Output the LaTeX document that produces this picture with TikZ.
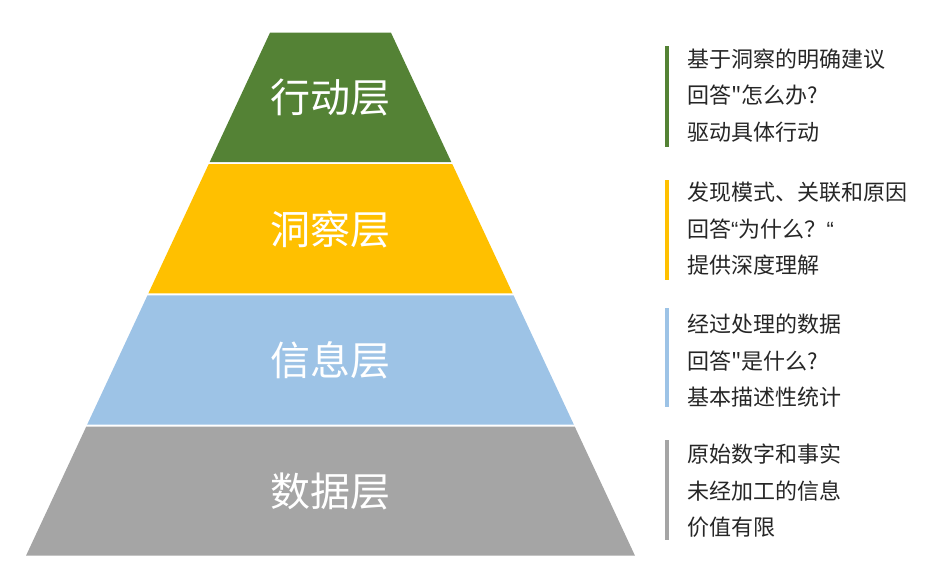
\documentclass[tikz,border=0pt]{standalone}
\usepackage{fontspec}
\setmainfont{Noto Sans CJK SC}
\newfontfamily\cjk{Noto Sans CJK SC}
\newfontfamily\latq{Liberation Sans}
\definecolor{cgreen}{HTML}{548235}
\definecolor{cyellow}{HTML}{FFC000}
\definecolor{cblue}{HTML}{9DC3E6}
\definecolor{cgray}{HTML}{A5A5A5}
\definecolor{ctext}{HTML}{262626}
\begin{document}
\begin{tikzpicture}[x=1pt,y=-1pt,
  layerlabel/.style={text=white,font=\cjk\fontsize{40}{48}\selectfont,inner sep=0pt},
  notes/.style={anchor=west,align=left,text=ctext,font=\cjk\fontsize{22}{36.5}\selectfont,inner sep=0pt}]
\useasboundingbox (0,0) rectangle (932,571);
% layers
\fill[cgreen]  (270,32.7) -- (391,32.7) -- (451.3,162) -- (209.7,162) -- cycle;
\fill[cyellow] (208.75,164) -- (452.25,164) -- (512.6,293.3) -- (148.4,293.3) -- cycle;
\fill[cblue]   (147.5,295.3) -- (513.5,295.3) -- (573.8,424.5) -- (87.2,424.5) -- cycle;
\fill[cgray]   (86.3,426.5) -- (574.7,426.5) -- (635,555.7) -- (26,555.7) -- cycle;
% labels
\node[layerlabel] (l1) at (330.5,97.5) {行动层};
\node[layerlabel] (l2) at (330.5,229) {洞察层};
\node[layerlabel] (l3) at (330.5,360) {信息层};
\node[layerlabel] (l4) at (330.5,491) {数据层};
% side bars
\fill[cgreen]  (665,46) rectangle (669,147);
\fill[cyellow] (665,180) rectangle (669,280);
\fill[cblue]   (665,308) rectangle (669,407);
\fill[cgray]   (665,440) rectangle (669,540);
% notes
\node[notes] (n1) at (687,95.5) {基于洞察的明确建议\\回答"怎么办?\\驱动具体行动};
\node[notes] (n2) at (687,229) {发现模式、关联和原因\\回答{\latq “}为什么？{\latq “}\\提供深度理解};
\node[notes] (n3) at (687,361) {经过处理的数据\\回答"是什么?\\基本描述性统计};
\node[notes] (n4) at (687,491) {原始数字和事实\\未经加工的信息\\价值有限};
\end{tikzpicture}
\end{document}
